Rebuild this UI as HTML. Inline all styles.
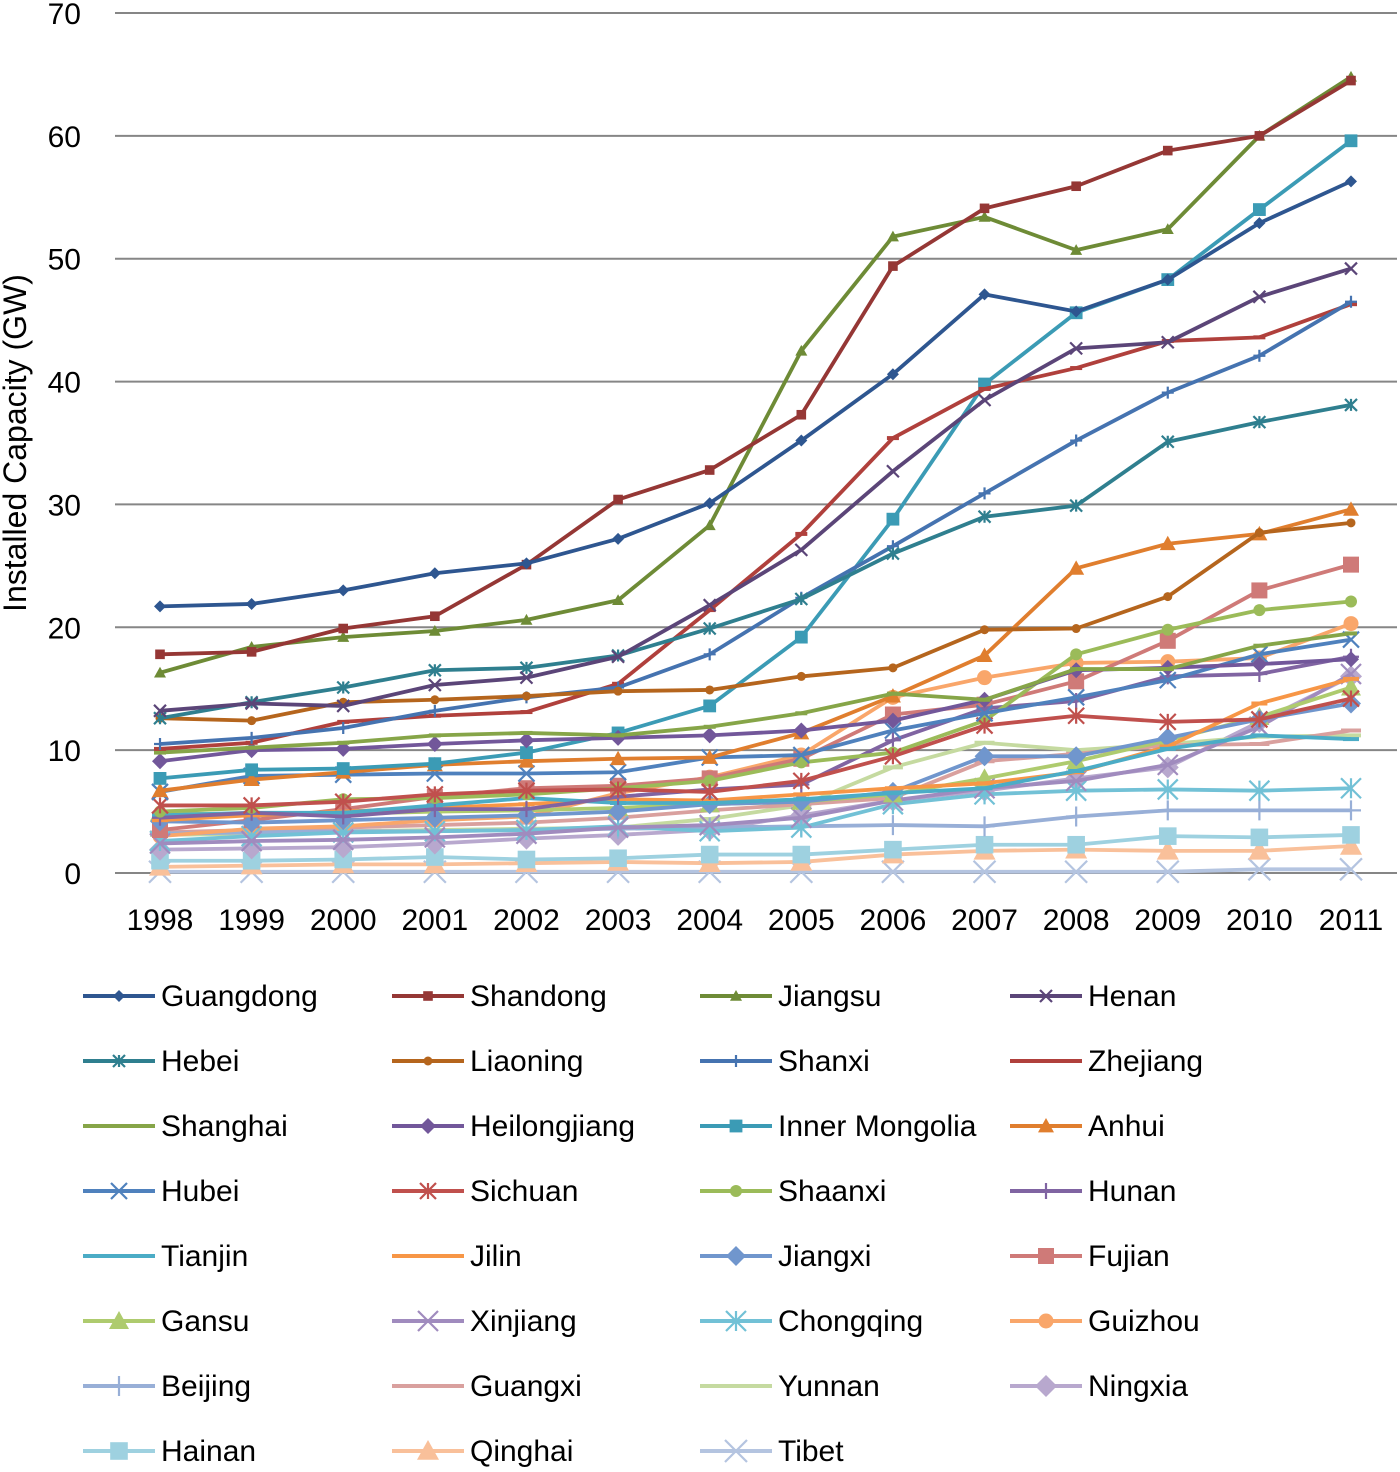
<!DOCTYPE html>
<html><head><meta charset="utf-8"><style>
body{margin:0;background:#fff;}
svg text{font-family:"Liberation Sans",sans-serif;fill:#000;}
</style></head><body>
<svg id="chart" width="1400" height="1467" viewBox="0 0 1400 1467" xmlns="http://www.w3.org/2000/svg">
<g id="grid"></g>
<g id="axes"></g>
<g id="series"></g>
<g id="legend"></g>
<text x="0" y="0" font-size="32" text-anchor="middle" transform="translate(26,443) rotate(-90)">Installed Capacity (GW)</text>
</svg>
<script>
const years = [1998,1999,2000,2001,2002,2003,2004,2005,2006,2007,2008,2009,2010,2011];
const yTicks = [0,10,20,30,40,50,60,70];
const names = ["Guangdong","Shandong","Jiangsu","Henan","Hebei","Liaoning","Shanxi","Zhejiang","Shanghai","Heilongjiang","Inner Mongolia","Anhui","Hubei","Sichuan","Shaanxi","Hunan","Tianjin","Jilin","Jiangxi","Fujian","Gansu","Xinjiang","Chongqing","Guizhou","Beijing","Guangxi","Yunnan","Ningxia","Hainan","Qinghai","Tibet"];
const guangdong=[21.7,21.9,23.0,24.4,25.2,27.2,30.1,35.2,40.6,47.1,45.7,48.3,52.9,56.3];
const shandong=[17.8,18.0,19.9,20.9,25.1,30.4,32.8,37.3,49.4,54.1,55.9,58.8,60.0,64.5];
const jiangsu=[16.3,18.4,19.2,19.7,20.6,22.2,28.3,42.5,51.8,53.4,50.7,52.4,60.0,64.8];
const henan=[13.2,13.8,13.6,15.3,15.9,17.6,21.8,26.3,32.7,38.5,42.7,43.2,46.9,49.2];
const hebei=[12.6,13.9,15.1,16.5,16.7,17.7,19.9,22.3,26.0,29.0,29.9,35.1,36.7,38.1];
const liaoning=[12.6,12.4,13.9,14.1,14.4,14.8,14.9,16.0,16.7,19.8,19.9,22.5,27.7,28.5];
const shanxi=[10.5,11.0,11.8,13.2,14.3,15.1,17.8,22.4,26.6,30.9,35.2,39.1,42.1,46.5];
const zhejiang=[10.1,10.6,12.3,12.8,13.1,15.4,21.4,27.6,35.4,39.4,41.1,43.3,43.6,46.3];
const shanghai=[9.8,10.2,10.6,11.2,11.4,11.2,11.9,13.0,14.6,14.1,16.6,16.6,18.5,19.5];
const heilongjiang=[9.1,10.0,10.1,10.5,10.8,11.0,11.2,11.6,12.4,14.1,16.5,16.7,17.0,17.4];
const innerMongolia=[7.7,8.4,8.5,8.9,9.8,11.4,13.6,19.2,28.8,39.8,45.6,48.3,54.0,59.6];
const anhui=[6.7,7.6,8.2,8.8,9.1,9.3,9.4,11.4,14.4,17.7,24.8,26.8,27.6,29.6];
const hubei=[6.6,7.9,8.0,8.1,8.1,8.2,9.4,9.6,11.6,13.0,14.3,15.7,17.8,19.0];
const sichuan=[5.5,5.5,5.8,6.4,6.7,6.8,6.6,7.5,9.5,12.0,12.8,12.3,12.5,14.2];
const shaanxi=[5.0,5.3,6.0,6.1,6.4,6.9,7.5,9.0,9.8,12.4,17.8,19.8,21.4,22.1];
const hunan=[4.5,4.9,4.6,5.2,5.2,6.2,6.8,7.2,10.8,13.4,14.0,16.0,16.2,17.6];
const tianjin=[4.7,4.9,4.9,5.5,6.1,5.7,5.7,6.0,6.5,6.9,8.3,10.1,11.2,10.9];
const jilin=[4.3,4.7,5.0,5.3,5.6,6.0,5.9,6.4,6.9,7.3,8.2,10.3,13.8,15.8];
const jiangxi=[4.2,4.1,4.3,4.5,4.7,5.0,5.6,5.8,6.6,9.5,9.5,11.0,12.5,13.8];
const fujian=[3.5,4.3,5.2,6.2,6.9,7.1,7.7,9.3,12.9,13.7,15.6,18.9,23.0,25.1];
const gansu=[4.9,4.7,4.8,5.0,5.1,5.3,5.6,5.8,6.4,7.7,9.1,10.8,12.7,15.1];
const xinjiang=[2.4,2.6,2.7,2.9,3.2,3.7,3.9,4.5,5.9,6.9,7.5,8.8,11.9,16.2];
const chongqing=[2.6,3.0,3.3,3.4,3.5,3.8,3.4,3.7,5.6,6.4,6.7,6.8,6.7,6.9];
const guizhou=[3.0,3.6,3.8,4.3,4.6,6.5,7.8,9.6,14.3,15.9,17.1,17.2,17.5,20.3];
const beijing=[3.2,3.3,3.4,3.4,3.5,3.6,3.7,3.8,3.9,3.8,4.6,5.1,5.1,5.1];
const guangxi=[3.3,3.5,3.7,3.9,4.1,4.5,5.1,5.6,6.1,9.1,9.7,10.4,10.5,11.6];
const yunnan=[3.1,3.2,3.4,3.5,3.6,3.7,4.4,5.5,8.6,10.6,10.0,10.5,11.1,11.2];
const ningxia=[1.9,2.0,2.1,2.4,2.8,3.1,3.5,4.7,5.9,6.7,7.7,8.6,12.3,16.0];
const hainan=[1.0,1.0,1.1,1.3,1.1,1.2,1.5,1.5,1.9,2.3,2.3,3.0,2.9,3.1];
const qinghai=[0.5,0.6,0.7,0.7,0.8,0.9,0.8,0.9,1.5,1.8,1.9,1.8,1.8,2.2];
const tibet=[0.1,0.1,0.1,0.1,0.1,0.1,0.1,0.1,0.1,0.1,0.1,0.1,0.3,0.3];
const seriesValues=[guangdong,shandong,jiangsu,henan,hebei,liaoning,shanxi,zhejiang,shanghai,heilongjiang,innerMongolia,anhui,hubei,sichuan,shaanxi,hunan,tianjin,jilin,jiangxi,fujian,gansu,xinjiang,chongqing,guizhou,beijing,guangxi,yunnan,ningxia,hainan,qinghai,tibet];

const colors=["#2E5690","#953735","#6E8B36","#5B4578","#2F7F8F","#B5651D",
"#4573B0","#B0403C","#86A548","#72579A","#3B9BB5","#E07E2E",
"#4F81BD","#C0504D","#9BBB59","#8064A2","#4BACC6","#F79646",
"#7096CD","#CF7A78","#AECB6E","#A08BBE","#72C1D6","#F9A66A",
"#98AFD7","#D9A09E","#C5DAA0","#B8A8CE","#9ED1E0","#F9C09A","#B4C4E0"];
const markerSeq=["diamond","square","triangle","x","star","circle","plus","dash","dash","diamond","square","triangle","x","star","circle","plus","dash","dash","diamond","square","triangle","x","star","circle","plus","dash","dash","diamond","square","triangle","x"];
function markerFor(i){return markerSeq[i];}
function sizeFor(i){return i<9?6:(i<18?8:(i<27?10:11));}

const X0=160,X1=1351,Y0=873,Y70=13;
const xs=i=>X0+(X1-X0)*i/(years.length-1);
const ys=v=>Y0+(Y70-Y0)*v/70;
const NS="http://www.w3.org/2000/svg";
function mk(tag,attrs,parent){const e=document.createElementNS(NS,tag);for(const k in attrs)e.setAttribute(k,attrs[k]);parent.appendChild(e);return e;}

const grid=document.getElementById('grid'),axes=document.getElementById('axes');
yTicks.forEach(t=>{
  const l=mk('line',{x1:115,x2:1397,y1:ys(t),y2:ys(t),stroke:'#868686','stroke-width':2},grid);
  
  
  const tx=mk('text',{x:81,y:ys(t)+11,'font-size':30,'text-anchor':'end'},axes);
  tx.textContent=t;
  
  
});
years.forEach((y,i)=>{
  const tx=mk('text',{x:xs(i),y:930,'font-size':30,'text-anchor':'middle'},axes);
  tx.textContent=y;
  
  
});

function drawMarker(g,type,x,y,s,c){
  let e;
  if(type==='diamond')e=mk('polygon',{points:`${x},${y-s} ${x+s},${y} ${x},${y+s} ${x-s},${y}`,fill:c},g);
  else if(type==='square')e=mk('rect',{x:x-s*0.8,y:y-s*0.8,width:s*1.6,height:s*1.6,fill:c},g);
  else if(type==='triangle')e=mk('polygon',{points:`${x},${y-s} ${x+s},${y+s*0.8} ${x-s},${y+s*0.8}`,fill:c},g);
  else if(type==='x')e=mk('path',{d:`M${x-s} ${y-s}L${x+s} ${y+s}M${x-s} ${y+s}L${x+s} ${y-s}`,stroke:c,'stroke-width':2.2,fill:'none'},g);
  else if(type==='star')e=mk('path',{d:`M${x-s} ${y-s}L${x+s} ${y+s}M${x-s} ${y+s}L${x+s} ${y-s}M${x} ${y-s}L${x} ${y+s}`,stroke:c,'stroke-width':2.2,fill:'none'},g);
  else if(type==='circle')e=mk('circle',{cx:x,cy:y,r:s*0.75,fill:c},g);
  else if(type==='plus')e=mk('path',{d:`M${x-s} ${y}L${x+s} ${y}M${x} ${y-s}L${x} ${y+s}`,stroke:c,'stroke-width':2.2,fill:'none'},g);
  else e=mk('path',{d:`M${x-s} ${y}L${x+s} ${y}`,stroke:c,'stroke-width':4,fill:'none'},g);
  return e;
}

const sg=document.getElementById('series');
for(let si=seriesValues.length-1;si>=0;si--){
  const vals=seriesValues[si],c=colors[si];
  const g=mk('g',{},sg);
  
  
  const p=mk('polyline',{points:vals.map((v,i)=>xs(i)+','+ys(v)).join(' '),fill:'none',stroke:c,'stroke-width':3.8,'stroke-linejoin':'round'},g);
  
  
  vals.forEach((v,i)=>{
    const m=drawMarker(g,markerFor(si),xs(i),ys(v),sizeFor(si),c);
    
    
  });
}

const lg=document.getElementById('legend');
const colX=[83,392,700,1010];
names.forEach((n,i)=>{
  const col=i%4,row=Math.floor(i/4);
  const x=colX[col],y=996+row*65;
  const g=mk('g',{},lg);
  
  
  mk('line',{x1:x,x2:x+72,y1:y,y2:y,stroke:colors[i],'stroke-width':4},g);
  drawMarker(g,markerFor(i),x+36,y,sizeFor(i),colors[i]);
  const t=mk('text',{x:x+78,y:y+10,'font-size':30},g);
  t.textContent=n;
});
</script>
</body></html>
